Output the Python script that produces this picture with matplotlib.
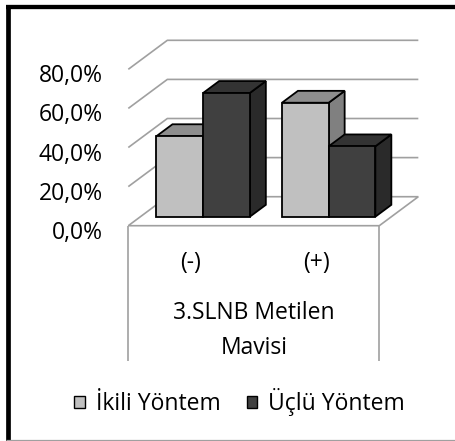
import matplotlib
matplotlib.use("Agg")
import matplotlib.pyplot as plt
from matplotlib.patches import Polygon, Patch
from matplotlib.lines import Line2D
from matplotlib.transforms import ScaledTranslation

# ---- data ----
categories = ["(-)", "(+)"]
group_label = "3.SLNB Metilen\nMavisi"
series_names = ["İkili Yöntem", "Üçlü Yöntem"]
ikili = [41.2, 58.3]
uclu = [63.3, 36.0]
yticks = [0, 20, 40, 60, 80]
ytick_labels = ["0,0%", "20,0%", "40,0%", "60,0%", "80,0%"]

# ---- style ----
front_colors = ["#C0C0C0", "#404040"]
top_colors = ["#8E8E8E", "#333333"]
side_colors = ["#808080", "#2A2A2A"]
grid_color = "#A0A0A0"
FS = 16.5

plt.rcParams['font.family'] = ['Open Sans', 'DejaVu Sans']

W, H = 456, 441
fig = plt.figure(figsize=(W / 100, H / 100), dpi=100)
ax = fig.add_axes([128.3 / W, (H - 225.7) / H, 251 / W, 156.4 / H])
ax.set_xlim(0, len(categories))
ax.set_ylim(0, yticks[-1])
for sp in ax.spines.values():
    sp.set_visible(False)
ax.patch.set_visible(False)

DX, DY = 0.311, 14.83      # full depth offset in data units


def proj(x, y, d):
    return (x + d * DX, y + d * DY)


ncat = len(categories)
# back wall gridlines + left wall diagonals
for v in yticks[1:]:
    pts = [proj(0, v, 0), proj(0, v, 1), proj(ncat, v, 1)]
    ax.plot([p[0] for p in pts], [p[1] for p in pts], color=grid_color,
            lw=1.2, clip_on=False, zorder=1, solid_capstyle='butt')

# floor
floor = Polygon([proj(0, 0, 0), proj(ncat, 0, 0), proj(ncat, 0, 1), proj(0, 0, 1)],
                closed=True, facecolor="white", edgecolor=grid_color, lw=1.2,
                clip_on=False, zorder=2)
ax.add_patch(floor)

# category divider lines under the floor
ax.vlines([0, ncat], -69.3, 0, color=grid_color, lw=1.2, clip_on=False, zorder=2)

# bars
series = [ikili, uclu]
w = 0.372
d0, d1 = 0.31, 0.72
z = 3
for i in range(ncat):
    for s, vals in enumerate(series):
        v = vals[i]
        x0 = i + 0.5 - w + s * w
        x1 = x0 + w
        side = [proj(x1, 0, d0), proj(x1, 0, d1), proj(x1, v, d1), proj(x1, v, d0)]
        top = [proj(x0, v, d0), proj(x1, v, d0), proj(x1, v, d1), proj(x0, v, d1)]
        front = [proj(x0, 0, d0), proj(x1, 0, d0), proj(x1, v, d0), proj(x0, v, d0)]
        for poly, col in ((side, side_colors[s]), (top, top_colors[s]), (front, front_colors[s])):
            ax.add_patch(Polygon(poly, closed=True, facecolor=col, edgecolor="black",
                                 lw=1.3, joinstyle='miter', clip_on=False, zorder=z))
            z += 1

# axes ticks
ax.set_yticks(yticks, ytick_labels)
ax.set_xticks([i + 0.5 for i in range(ncat)], categories)
ax.tick_params(axis='y', length=0, pad=18.5, labelsize=FS, colors='black')
ax.tick_params(axis='x', length=0, pad=18, labelsize=FS, colors='black')
off = ScaledTranslation(0, -4 / 100, fig.dpi_scale_trans)
for lab in ax.get_yticklabels():
    lab.set_transform(lab.get_transform() + off)

ax.text(ncat / 2, -53.6, group_label, ha='center', va='center', fontsize=FS,
        linespacing=1.6, clip_on=False)

# legend
handles = [Patch(facecolor=front_colors[s], edgecolor='black', lw=1.0)
           for s in range(len(series_names))]
fig.legend(handles, series_names, loc='center', bbox_to_anchor=(239.5 / W, 1 - 402 / H),
           ncol=2, frameon=False, fontsize=FS, handlelength=0.44, handleheight=0.44,
           handletextpad=0.48, columnspacing=1.15, borderpad=0, borderaxespad=0)

# chart frame (left & top black, bottom gray)
fig.add_artist(Line2D([8.3 / W, 8.3 / W], [0, 1 - 5 / H], color='black', lw=3.4,
                      transform=fig.transFigure, solid_capstyle='butt'))
fig.add_artist(Line2D([6 / W, 1], [1 - 7.2 / H, 1 - 7.2 / H], color='black', lw=3.1,
                      transform=fig.transFigure, solid_capstyle='butt'))
fig.add_artist(Line2D([6 / W, 1], [0.6 / H, 0.6 / H], color='#A0A0A0', lw=0.9,
                      transform=fig.transFigure, solid_capstyle='butt'))

fig.savefig("out.png", dpi=100, facecolor="white")
